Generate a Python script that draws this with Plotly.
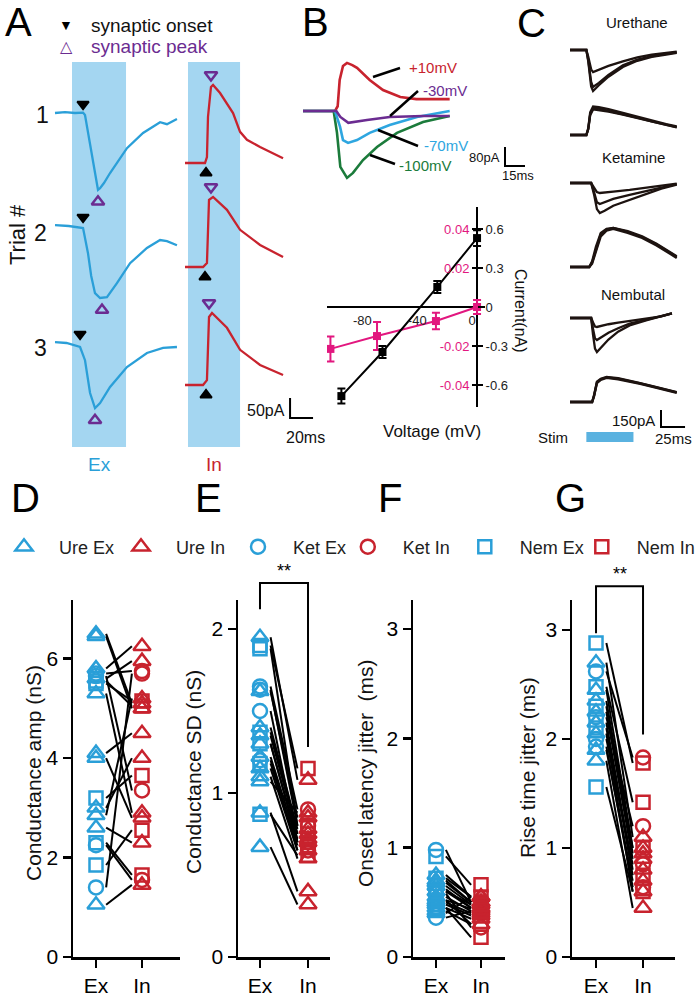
import plotly.graph_objects as go

W, H = 697, 997
def px(x): return x / W
def py(y): return 1 - y / H

FONT = "Liberation Sans, Arial, Helvetica, sans-serif"
BLUE = "#2a9fd8"
RED = "#c8232e"
PURPLE = "#6b2c91"
SHADE = "#a4d6f1"
GREEN = "#1b7b3b"
BBLUE = "#2ea6e0"
PINK = "#e2177f"
DARK = "#1d1310"

# ---------------- DATA ----------------
# Panel A: example traces, time (ms) from trace start, current (pA) relative to baseline
a_ex1_t = [0, 8.7, 17.4, 24.4, 26.1, 28.7, 32.2, 35.7, 37.4, 39.2, 42.6, 47.9, 53.9, 62.6, 76.6, 91.4, 97.4, 106.1]
a_ex1_i = [0, 2, 0, 1, -5, -50, -110, -165, -192, -188, -175, -150, -125, -88, -50, -23, -28, -15]
a_ex2_t = [0, 12, 24.4, 28.7, 31.5, 34.8, 39.2, 45.2, 53.9, 65.3, 80, 91.4, 97.4, 106.1]
a_ex2_i = [2, 0, -5, -68, -125, -168, -180, -178, -143, -93, -55, -35, -38, -48]
a_ex3_t = [0, 10, 21.8, 26.1, 30.5, 34.8, 39.2, 47.9, 62.6, 80, 94, 106.1]
a_ex3_i = [2, 0, -10, -43, -125, -163, -150, -110, -60, -25, -12, -10]
a_in1_t = [0, 17.4, 19.1, 20, 22.6, 24.4, 30.5, 41.8, 47.9, 53.9, 65.3, 85.3]
a_in1_i = [0, 0, 15, 115, 190, 195, 175, 125, 78, 58, 40, 12]
a_in2_t = [0, 15.7, 19.1, 20.9, 24.4, 36.5, 47.9, 65.3, 85.3]
a_in2_i = [0, 0, 10, 168, 175, 143, 93, 55, 25]
a_in3_t = [0, 15.7, 19.1, 20.9, 23.5, 36.5, 47.9, 65.3, 85.3]
a_in3_i = [0, 0, 12, 170, 180, 143, 88, 50, 25]
a_ex_onset_t = [24.4, 24.4, 21.8]
a_ex_peak_t = [37.4, 40.9, 34.8]
a_ex_peak_i = [-192, -180, -163]
a_in_onset_t = [18.3, 17.4, 18.3]
a_in_peak_t = [22.6, 22.6, 20.9]
a_in_peak_i = [195, 175, 180]
trial_labels = ["1", "2", "3"]

# Panel B: holding-potential traces (ms, pA)
b_p10_t = [0, 24, 26, 27.5, 30, 33, 37, 40.5, 50, 60, 73, 85, 110]
b_p10_i = [0, 0, 20, 130, 189, 202, 193, 181, 130, 88, 59, 50, 50]
b_m30_t = [0, 25, 28, 34, 48, 65, 90, 110]
b_m30_i = [0, 0, -25, -50, -38, -25, -21, -21]
b_m70_t = [0, 24, 27.8, 30, 33.8, 40.5, 50, 65, 85.5, 110]
b_m70_i = [0, 0, -67, -122, -134, -122, -92, -59, -25, 0]
b_m100_t = [0, 23, 25.5, 28, 33, 37.5, 45, 55.5, 70.5, 90, 110]
b_m100_i = [0, 0, -92, -235, -281, -260, -206, -151, -92, -46, -21]

# Panel B: I-V relation
iv_black_v = [-99, -69, -29, 0]
iv_black_i = [-0.685, -0.346, 0.154, 0.53]
iv_black_err = [0.058, 0.046, 0.046, 0.06]
iv_pink_v = [-107, -73, -30, 0]
iv_pink_i = [-0.0215, -0.0149, -0.0072, 0.0]
iv_pink_err = [0.0064, 0.0072, 0.0042, 0.0036]
iv_pink_ticks = [-0.04, -0.02, 0.02, 0.04]
iv_black_ticks = [-0.6, -0.3, 0, 0.3, 0.6]
iv_v_ticks = [-80, -40, 0]

# Panel C: overlaid trials (ms, pA)
c_ure_ex_t = [0, 17, 19, 22, 24, 30, 40, 55, 70, 85, 100, 111]
c_ure_ex_i = [[0, 0, -60, -170, -194, -175, -140, -100, -65, -40, -25, -15],
              [0, 0, -90, -280, -326, -290, -220, -135, -85, -55, -35, -20],
              [0, 0, -100, -320, -361, -310, -235, -150, -95, -60, -40, -25]]
c_ure_in_t = [0, 17, 19, 21, 24, 30, 40, 55, 70, 85, 100, 111]
c_ure_in_i = [[0, 0, 60, 200, 250, 245, 228, 195, 160, 125, 95, 75],
              [0, 0, 50, 175, 225, 220, 205, 180, 150, 118, 90, 68],
              [0, 0, 55, 185, 235, 232, 212, 185, 152, 120, 92, 70]]
c_ket_ex_t = [0, 22, 25, 28, 31, 36, 45, 62, 80, 95, 111]
c_ket_ex_i = [[0, 0, -40, -80, -88, -85, -75, -60, -40, -20, -5],
              [0, 0, -80, -170, -185, -170, -140, -105, -70, -35, -10],
              [0, 0, -100, -230, -264, -245, -200, -150, -100, -50, -15]]
c_ket_in_t = [0, 20, 23, 27, 32, 38, 45, 60, 75, 90, 111]
c_ket_in_i = [[0, 0, 40, 160, 290, 330, 343, 310, 264, 200, 88],
              [0, 0, 30, 130, 270, 320, 335, 300, 255, 190, 80],
              [0, 0, 50, 180, 300, 335, 345, 315, 270, 205, 95]]
c_nem_ex_t = [0, 22, 24, 26, 28, 32, 40, 50, 62, 80, 95, 106]
c_nem_ex_i = [[0, 0, -40, -75, -79, -70, -55, -40, -25, -5, 15, 40],
              [0, 0, -100, -180, -194, -170, -130, -90, -50, -15, 15, 40],
              [0, 0, -150, -270, -300, -260, -190, -120, -65, -20, 15, 40]]
c_nem_in_t = [0, 23, 25, 28, 32, 38, 50, 62, 73, 90, 111]
c_nem_in_i = [[0, 0, 60, 180, 205, 220, 210, 190, 167, 130, 88],
              [0, 0, 50, 165, 195, 212, 200, 180, 160, 125, 80],
              [0, 0, 55, 172, 200, 216, 205, 185, 163, 128, 84]]
c_titles = ["Urethane", "Ketamine", "Nembutal"]
c_stim = [17, 66]

# Panels D-G: paired Ex / In values per anesthetic
d_ure_ex = [6.5, 6.45, 5.8, 5.6, 5.3, 4.1, 4.0, 3.0, 2.85, 2.6, 1.05]
d_ure_in = [5.1, 5.0, 6.25, 5.95, 2.9, 4.5, 2.8, 4.0, 5.2, 2.3, 1.45]
d_ket_ex = [5.7, 5.65, 2.25, 1.4]
d_ket_in = [5.75, 3.35, 1.55, 5.7]
d_nem_ex = [5.5, 5.55, 3.2, 2.3, 1.85]
d_nem_in = [5.15, 5.05, 3.65, 1.65, 2.55]

e_ure_ex = [1.95, 1.62, 1.4, 1.35, 1.3, 1.22, 1.15, 1.1, 1.07, 0.88, 0.67]
e_ure_in = [1.08, 0.85, 0.78, 0.75, 0.72, 0.7, 0.65, 0.6, 0.88, 0.4, 0.32]
e_ket_ex = [1.65, 1.63, 1.5, 1.2]
e_ket_in = [0.9, 0.8, 0.7, 0.65]
e_nem_ex = [1.9, 1.88, 1.37, 1.3, 1.18, 0.87]
e_nem_in = [1.15, 0.8, 0.75, 0.7, 0.68, 0.62]

f_ure_ex = [0.75, 0.7, 0.65, 0.6, 0.55, 0.5, 0.48, 0.45, 0.42, 0.4, 0.68, 0.52]
f_ure_in = [0.55, 0.5, 0.48, 0.45, 0.42, 0.4, 0.38, 0.35, 0.3, 0.55, 0.5, 0.44]
f_ket_ex = [0.98, 0.62, 0.58, 0.36]
f_ket_in = [0.5, 0.45, 0.27, 0.42]
f_nem_ex = [0.92, 0.72, 0.6, 0.52, 0.45]
f_nem_in = [0.66, 0.55, 0.48, 0.3, 0.18]

g_ure_ex = [2.7, 2.45, 2.35, 2.25, 2.15, 2.05, 1.9, 1.8]
g_ure_in = [1.1, 1.0, 0.95, 0.9, 0.8, 0.6, 0.7, 0.45]
g_ket_ex = [2.62, 2.2, 2.0, 1.93]
g_ket_in = [1.83, 1.2, 0.85, 0.64]
g_nem_ex = [2.88, 2.48, 2.3, 2.1, 1.56]
g_nem_in = [1.78, 1.42, 1.0, 0.75, 0.6]

cond_ticks = ["Ex", "In"]

# ---------------- FIGURE ----------------
fig = go.Figure()

def line(x, y, color, width, xa, ya):
    fig.add_trace(go.Scatter(x=x, y=y, mode="lines", line=dict(color=color, width=width),
                             xaxis=xa, yaxis=ya, showlegend=False, hoverinfo="skip"))

def marks(x, y, symbol, size, color, xa, ya, lw=2):
    fig.add_trace(go.Scatter(x=x, y=y, mode="markers", cliponaxis=False,
                             marker=dict(symbol=symbol, size=size, color=color, line=dict(color=color, width=lw)),
                             xaxis=xa, yaxis=ya, showlegend=False, hoverinfo="skip"))

# ----- Panel A (layout: column/row offsets in axis units)
A_IN_SHIFT = 113.1
A_EX_BASE = [842.5, 560, 267.5]
A_IN_BASE = [717.5, 457.5, 162.5]
ONSET_OFF, PEAK_OFF = 22, 30
ex_tr = [(a_ex1_t, a_ex1_i), (a_ex2_t, a_ex2_i), (a_ex3_t, a_ex3_i)]
in_tr = [(a_in1_t, a_in1_i), (a_in2_t, a_in2_i), (a_in3_t, a_in3_i)]
for k in range(3):
    t, i = ex_tr[k]
    line(t, [v + A_EX_BASE[k] for v in i], BLUE, 2.3, "x", "y")
    t, i = in_tr[k]
    line([v + A_IN_SHIFT for v in t], [v + A_IN_BASE[k] for v in i], RED, 2.3, "x", "y")
marks(a_ex_onset_t, [b + ONSET_OFF for b in A_EX_BASE], "triangle-down", 10, "black", "x", "y")
marks(a_ex_peak_t, [p + b - PEAK_OFF for p, b in zip(a_ex_peak_i, A_EX_BASE)], "triangle-up-open", 11, PURPLE, "x", "y", 2.5)
marks([t + A_IN_SHIFT for t in a_in_onset_t], [b - ONSET_OFF - 3 for b in A_IN_BASE], "triangle-up", 10, "black", "x", "y")
marks([t + A_IN_SHIFT for t in a_in_peak_t], [p + b + 25 for p, b in zip(a_in_peak_i, A_IN_BASE)], "triangle-down-open", 11, PURPLE, "x", "y", 2.5)
# scale bar A (50 pA, 20 ms)
A_SB = (204.5, 80)
line([A_SB[0], A_SB[0], A_SB[0] + 20], [A_SB[1] + 50, A_SB[1], A_SB[1]], "black", 2, "x", "y")

# ----- Panel B traces
for t, i, c in [(b_p10_t, b_p10_i, RED), (b_m100_t, b_m100_i, GREEN), (b_m70_t, b_m70_i, BBLUE), (b_m30_t, b_m30_i, PURPLE)]:
    line(t, i, c, 2.6, "x2", "y2")
B_SB = (151.5, -231)
line([B_SB[0], B_SB[0], B_SB[0] + 15], [B_SB[1] + 80, B_SB[1], B_SB[1]], "black", 2, "x2", "y2")

# ----- I-V
fig.add_trace(go.Scatter(x=iv_black_v, y=iv_black_i, mode="lines+markers", xaxis="x3", yaxis="y4",
                         line=dict(color="black", width=2), marker=dict(symbol="square", size=8, color="black"),
                         error_y=dict(type="data", array=iv_black_err, color="black", thickness=2, width=4),
                         showlegend=False, hoverinfo="skip"))
fig.add_trace(go.Scatter(x=iv_pink_v, y=iv_pink_i, mode="lines+markers", xaxis="x3", yaxis="y3",
                         line=dict(color=PINK, width=2), marker=dict(symbol="square", size=8, color=PINK),
                         error_y=dict(type="data", array=iv_pink_err, color=PINK, thickness=2, width=4),
                         showlegend=False, hoverinfo="skip"))

# ----- Panel C
C_BASE = [3520, 2772, 2349.6, 1610.4, 1161.6, 422.4]
c_sets = [(c_ure_ex_t, c_ure_ex_i), (c_ure_in_t, c_ure_in_i), (c_ket_ex_t, c_ket_ex_i),
          (c_ket_in_t, c_ket_in_i), (c_nem_ex_t, c_nem_ex_i), (c_nem_in_t, c_nem_in_i)]
for (t, trials), base in zip(c_sets, C_BASE):
    for tr in trials:
        line(t, [v + base for v in tr], DARK, 2.3, "x5", "y5")
C_SB = (94.64, 202.4)
line([C_SB[0], C_SB[0], C_SB[0] + 25], [C_SB[1] + 150, C_SB[1], C_SB[1]], "black", 2, "x5", "y5")
line(c_stim, [114.4, 114.4], "#5ab2e0", 10, "x5", "y5")

# ----- Panels D-G
groups = [("Ure", "triangle-up-open", 15), ("Ket", "circle-open", 14), ("Nem", "square-open", 13)]
panels = [
    ("x6", "y6", {"Ure": (d_ure_ex, d_ure_in), "Ket": (d_ket_ex, d_ket_in), "Nem": (d_nem_ex, d_nem_in)}),
    ("x7", "y7", {"Ure": (e_ure_ex, e_ure_in), "Ket": (e_ket_ex, e_ket_in), "Nem": (e_nem_ex, e_nem_in)}),
    ("x8", "y8", {"Ure": (f_ure_ex, f_ure_in), "Ket": (f_ket_ex, f_ket_in), "Nem": (f_nem_ex, f_nem_in)}),
    ("x9", "y9", {"Ure": (g_ure_ex, g_ure_in), "Ket": (g_ket_ex, g_ket_in), "Nem": (g_nem_ex, g_nem_in)}),
]
LX0, LX1 = 1.22, 1.78
for pi, (xa, ya, data) in enumerate(panels):
    lx, ly = [], []
    for g, _, _ in groups:
        ex, inn = data[g]
        for e, v in zip(ex, inn):
            lx += [LX0, LX1, None]
            ly += [e, v, None]
    line(lx, ly, "black", 2, xa, ya)
    k = 0
    for g, sym, size in groups:
        ex, inn = data[g]
        for vals, xpos, col, cond in [(ex, 1, BLUE, "Ex"), (inn, 2, RED, "In")]:
            fig.add_trace(go.Scatter(x=[xpos] * len(vals), y=vals, mode="markers", cliponaxis=False,
                                     name="   %s %s" % (g, cond),
                                     legend="legend" if k < 3 else "legend2",
                                     marker=dict(symbol=sym, size=size, color=col, line=dict(color=col, width=2.5)),
                                     xaxis=xa, yaxis=ya, showlegend=(pi == 0), hoverinfo="skip"))
            k += 1

# ---------------- LAYOUT ----------------
def dx(a, b): return [px(a), px(b)]
def dy(top, bottom): return [py(bottom), py(top)]
hidden = dict(visible=False, showgrid=False, zeroline=False, fixedrange=True)

def bottom_axes(xd, xr, yr, yt):
    common = dict(showline=True, linewidth=2.5, linecolor="black", ticks="outside", ticklen=8,
                  tickwidth=2.5, tickcolor="black", tickfont=dict(size=21, color="black"),
                  showgrid=False, zeroline=False, fixedrange=True)
    xa_ = dict(common, domain=dx(*xd), range=xr, tickvals=[1, 2], ticktext=cond_ticks)
    ya_ = dict(common, domain=dy(600, 957), range=yr, tickvals=yt, ticktext=[str(v) for v in yt])
    return xa_, ya_

x6, y6 = bottom_axes((73, 180), [0.5, 2.826], [0, 7.18], [0, 2, 4, 6])
x7, y7 = bottom_axes((238, 330), [0.542, 2.458], [0, 2.177], [0, 1, 2])
x8, y8 = bottom_axes((413, 505), [0.489, 2.533], [0, 3.266], [0, 1, 2, 3])
x9, y9 = bottom_axes((572, 675), [0.489, 2.68], [0, 3.275], [0, 1, 2, 3])
x6["anchor"], y6["anchor"] = "y6", "x6"
x7["anchor"], y7["anchor"] = "y7", "x7"
x8["anchor"], y8["anchor"] = "y8", "x8"
x9["anchor"], y9["anchor"] = "y9", "x9"

leg_common = dict(orientation="h", xanchor="left", yanchor="middle", y=py(547),
                  font=dict(size=18, color="#222"), entrywidth=72, entrywidthmode="pixels",
                  bgcolor="rgba(0,0,0,0)", itemclick=False, itemdoubleclick=False)

layout = dict(
    width=W, height=H, autosize=False, margin=dict(l=0, r=0, t=0, b=0, autoexpand=False),
    paper_bgcolor="white", plot_bgcolor="rgba(0,0,0,0)", template="none",
    font=dict(family=FONT, color="black"),
    xaxis=dict(hidden, domain=dx(40, 330), range=[-13.05, 239.25], anchor="y"),
    yaxis=dict(hidden, domain=dy(55, 450), range=[0, 987.5], anchor="x"),
    xaxis2=dict(hidden, domain=dx(300, 530), range=[-2.25, 170.25], anchor="y2"),
    yaxis2=dict(hidden, domain=dy(40, 190), range=[-331.8, 298.2], anchor="x2"),
    xaxis3=dict(domain=dx(327, 485), range=[-109.5, 5.8], anchor="free", position=py(307),
                showgrid=False, showline=False, zeroline=True, zerolinewidth=2.5, zerolinecolor="black",
                tickvals=iv_v_ticks, ticktext=[str(v) for v in iv_v_ticks], ticks="",
                tickfont=dict(size=13, color="#222"), ticklabelshift=-5, ticklabelstandoff=4, fixedrange=True),
    yaxis3=dict(domain=dy(207, 407), range=[-0.0513, 0.0513], anchor="free", position=px(477),
                showgrid=False, showline=False, zeroline=True, zerolinewidth=2.5, zerolinecolor="black",
                tickvals=iv_pink_ticks, ticktext=["%g" % v for v in iv_pink_ticks], ticks="outside",
                ticklen=5, tickwidth=2, tickcolor="black", tickfont=dict(size=13, color=PINK), fixedrange=True),
    yaxis4=dict(overlaying="y3", side="right", anchor="free", position=px(477), range=[-0.769, 0.769],
                showgrid=False, showline=False, zeroline=False,
                tickvals=iv_black_ticks, ticktext=["%g" % v for v in iv_black_ticks], ticks="outside",
                ticklen=5, tickwidth=2, tickcolor="black", tickfont=dict(size=13, color="#222"), fixedrange=True),
    xaxis5=dict(hidden, domain=dx(530, 697), range=[-41.6, 132.08], anchor="y5"),
    yaxis5=dict(hidden, domain=dy(30, 450), range=[0, 3696], anchor="x5"),
    xaxis6=x6, yaxis6=y6, xaxis7=x7, yaxis7=y7, xaxis8=x8, yaxis8=y8, xaxis9=x9, yaxis9=y9,
    legend=dict(leg_common, x=px(4)),
    legend2=dict(leg_common, x=px(4 + 3 * 114.6)),
)
fig.update_layout(**layout)

# stimulus windows in panel A
A_STIM_EX = (14.8, 61.8)
A_STIM_IN = (2.6, 47.9)
shapes = []
for s0, s1 in [A_STIM_EX, (A_STIM_IN[0] + A_IN_SHIFT, A_STIM_IN[1] + A_IN_SHIFT)]:
    shapes.append(dict(type="rect", xref="x", yref="paper", x0=s0, x1=s1, y0=py(447), y1=py(62),
                       fillcolor=SHADE, line=dict(width=0), layer="below"))
# leader lines for panel B labels
for (x0, y0, x1, y1) in [(373, 77, 400, 68), (390, 116, 418, 91), (378, 130, 418, 146), (370, 155, 395, 164)]:
    shapes.append(dict(type="line", xref="paper", yref="paper", x0=px(x0), y0=py(y0), x1=px(x1), y1=py(y1),
                       line=dict(color="black", width=2.5)))
# significance brackets (E, G)
for xa, ya, top, lb, rb in [("x7", "y7", 2.28, 2.12, 1.28), ("x9", "y9", 3.40, 2.97, 2.04)]:
    ymax = fig.layout["yaxis" + ya[1:]].range[1]
    shapes.append(dict(type="path", xref=xa, yref=ya + " domain",
                       path="M 1,%f L 1,%f L 2,%f L 2,%f" % (lb / ymax, top / ymax, top / ymax, rb / ymax),
                       line=dict(color="black", width=2)))
fig.update_layout(shapes=shapes)

ann = []
def text(x, y, s, size, color="black", xanchor="center", angle=0, yanchor="middle"):
    ann.append(dict(x=px(x), y=py(y), xref="paper", yref="paper", text=s, showarrow=False,
                    font=dict(size=size, color=color, family=FONT), xanchor=xanchor, yanchor=yanchor,
                    textangle=angle))

for s, x, y in [("A", 18, 22), ("B", 315, 22), ("C", 531, 23), ("D", 25, 498), ("E", 208, 498),
                ("F", 390, 498), ("G", 570, 498)]:
    text(x, y, s, 40)
# panel A legend
text(66, 25, "▼", 14, "black")
text(89, 25, "synaptic onset", 19, "#111", "left")
text(66, 47, "△", 16, PURPLE)
text(89, 47, "synaptic peak", 19, PURPLE, "left")
text(18, 235, "Trial #", 22, "#111", angle=-90)
for lab, (x, y) in zip(trial_labels, [(42, 115), (40, 233), (40, 348)]):
    text(x, y, lab, 23, "#111")
text(99, 464, "Ex", 19, BLUE)
text(214, 464, "In", 19, RED)
text(287, 410, "50pA", 16, "#111", "right")
text(305, 437, "20ms", 16, "#111")
# panel B labels
text(407, 67, "+10mV", 15, RED, "left")
text(421, 90, "-30mV", 15, PURPLE, "left")
text(422, 146, "-70mV", 15, BBLUE, "left")
text(397, 165, "-100mV", 15, GREEN, "left")
text(502, 158, "80pA", 13, "#111", "right")
text(518, 176, "15ms", 13, "#111")
text(432, 431, "Voltage (mV)", 17, "#111")
text(521, 311, "Current(nA)", 16, "#111", angle=90)
# panel C labels
for s, (x, y) in zip(c_titles, [(637, 23), (633, 158), (633, 295)]):
    text(x, y, s, 15, "#111")
text(657, 421, "150pA", 15, "#111", "right")
text(673, 438, "25ms", 15, "#111")
text(553, 437, "Stim", 15, "#111")
# axis titles D-G
text(33, 773, "Conductance amp (nS)", 21, "#111", angle=-90)
text(193, 772, "Conductance SD (nS)", 21, "#111", angle=-90)
text(365, 773, "Onset latency jitter  (ms)", 21, "#111", angle=-90)
text(527, 768, "Rise time jitter (ms)", 21, "#111", angle=-90)
# significance stars
for xa, ya, top in [("x7", "y7", 2.28), ("x9", "y9", 3.40)]:
    ymax = fig.layout["yaxis" + ya[1:]].range[1]
    ann.append(dict(x=1.5, y=top / ymax, xref=xa, yref=ya + " domain", text="**", showarrow=False,
                    yanchor="bottom", font=dict(size=18, color="black", family=FONT)))
fig.update_layout(annotations=ann)

fig.write_html("out.html", config={"displayModeBar": False, "staticPlot": True},
               post_script="document.body.style.margin='0';")
